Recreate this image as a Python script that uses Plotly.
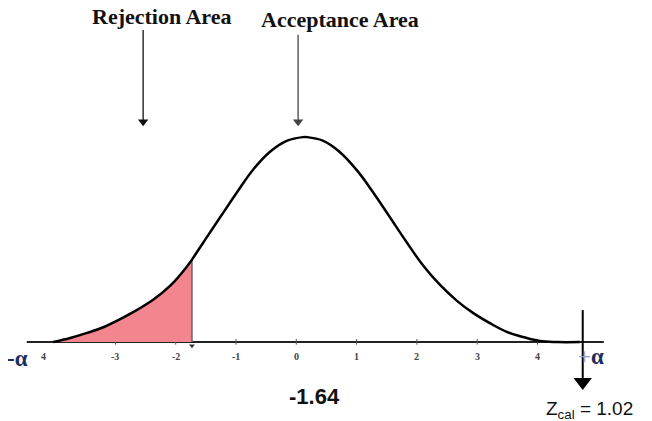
import plotly.graph_objects as go

# curve (z on x, height on y)
curve_x = [-4.03, -3.75, -3.47, -3.20, -2.92, -2.64, -2.38, -2.09, -1.81, -1.73,
           -1.55, -1.26, -0.98, -0.72, -0.44, -0.15, 0.11, 0.18, 0.44, 0.72,
           1.00, 1.27, 1.55, 1.83, 2.10, 2.38, 2.67, 2.93, 3.21, 3.49,
           3.76, 4.04, 4.32, 4.70]
curve_y = [0.0, 0.008, 0.018, 0.029, 0.045, 0.063, 0.082, 0.110, 0.148, 0.161,
           0.193, 0.244, 0.293, 0.336, 0.371, 0.393, 0.400, 0.400, 0.393, 0.371,
           0.336, 0.293, 0.244, 0.195, 0.150, 0.112, 0.080, 0.057, 0.037, 0.020,
           0.010, 0.002, 0.0, 0.0]

tick_vals = [-3, -2, -1, 0, 1, 2, 3, 4]
tick_text = ['-3', '-2', '-1', '0', '1', '2', '3', '4']

crit_x = -1.73          # where the shaded area stops
crit_label = '-1.64'
zcal_x = 4.75
zcal_label = 'Z<sub>cal</sub> = 1.02'
axis_ends = [-4.47, 5.10]

# arrows: x, top, tip
reject_arrow = [-2.54, 0.609, 0.418]
accept_arrow = [0.03, 0.600, 0.418]
zcal_arrow = [zcal_x, 0.0625, -0.09]

fig = go.Figure()

# baseline
fig.add_trace(go.Scatter(x=axis_ends, y=[0, 0], mode='lines',
                         line=dict(color='#222', width=2), hoverinfo='skip'))

# small tick marks
for t in tick_vals:
    fig.add_trace(go.Scatter(x=[t, t], y=[-0.005, 0.006], mode='lines',
                             line=dict(color='#555', width=1), hoverinfo='skip'))

# shaded rejection area
shade_x = [x for x in curve_x if x <= crit_x]
shade_y = curve_y[:len(shade_x)]
fig.add_trace(go.Scatter(x=shade_x, y=shade_y, mode='lines', fill='tozeroy',
                         fillcolor='#f3858f', line=dict(width=0, shape='spline'),
                         hoverinfo='skip'))
fig.add_trace(go.Scatter(x=[crit_x, crit_x], y=[0, shade_y[-1]], mode='lines',
                         line=dict(color='#666', width=1.5), hoverinfo='skip'))
fig.add_trace(go.Scatter(x=[crit_x], y=[-0.007], mode='markers',
                         marker=dict(symbol='triangle-down', size=5, color='#333'),
                         hoverinfo='skip'))

# the curve
fig.add_trace(go.Scatter(x=curve_x, y=curve_y, mode='lines',
                         line=dict(color='black', width=2.5, shape='spline', smoothing=1.1),
                         hoverinfo='skip'))

# arrows
for arr, col, w, s in [(reject_arrow, '#111', 1.3, 9), (accept_arrow, '#444', 1.3, 9),
                       (zcal_arrow, 'black', 2, 16)]:
    fig.add_trace(go.Scatter(x=[arr[0], arr[0]], y=[arr[1], arr[2] + 0.01], mode='lines',
                             line=dict(color=col, width=w), hoverinfo='skip'))
    fig.add_trace(go.Scatter(x=[arr[0]], y=[arr[2] + 0.012], mode='markers',
                             marker=dict(symbol='triangle-down', size=s, color=col),
                             hoverinfo='skip'))

# tick labels
for t, lab in zip(tick_vals, tick_text):
    fig.add_annotation(x=t, y=-0.029, text='<b>' + lab + '</b>', showarrow=False,
                       font=dict(family='Liberation Serif', size=10, color='#444'))
fig.add_annotation(x=-4.2, y=-0.029, text='<b>4</b>', showarrow=False,
                   font=dict(family='Liberation Serif', size=10, color='#444'))

# alpha labels
fig.add_annotation(x=-4.62, y=-0.032, text='<b>-α</b>', showarrow=False,
                   font=dict(family='Liberation Serif', size=23, color='#1d2d5e'))
fig.add_annotation(x=4.88, y=-0.029,
                   text='<span style="color:#8ea2c6">+</span><b>α</b>', showarrow=False,
                   font=dict(family='Liberation Serif', size=23, color='#1d2d5e'))

# top titles
fig.add_annotation(x=-2.23, y=0.635, text='<b>Rejection Area</b>', showarrow=False,
                   font=dict(family='Liberation Serif', size=22, color='#111'))
fig.add_annotation(x=0.72, y=0.629, text='<b>Acceptance Area</b>', showarrow=False,
                   font=dict(family='Liberation Serif', size=22, color='#111'))

# bottom labels
fig.add_annotation(x=0.31, y=-0.107, text='<b>' + crit_label + '</b>', showarrow=False,
                   font=dict(family='Liberation Sans', size=22, color='#111'))
fig.add_annotation(x=4.87, y=-0.133, text=zcal_label, showarrow=False,
                   font=dict(family='Liberation Sans', size=19, color='#111'))

# the page body has an 8px margin, so the plot is a bit smaller and ranges shifted
fig.update_layout(
    width=644, height=413,
    margin=dict(l=0, r=0, t=0, b=0),
    paper_bgcolor='white', plot_bgcolor='white',
    showlegend=False,
    xaxis=dict(visible=False, range=[-4.781, 5.899], fixedrange=True),
    yaxis=dict(visible=False, range=[-0.154, 0.652], fixedrange=True),
)

fig.write_html('out.html')
